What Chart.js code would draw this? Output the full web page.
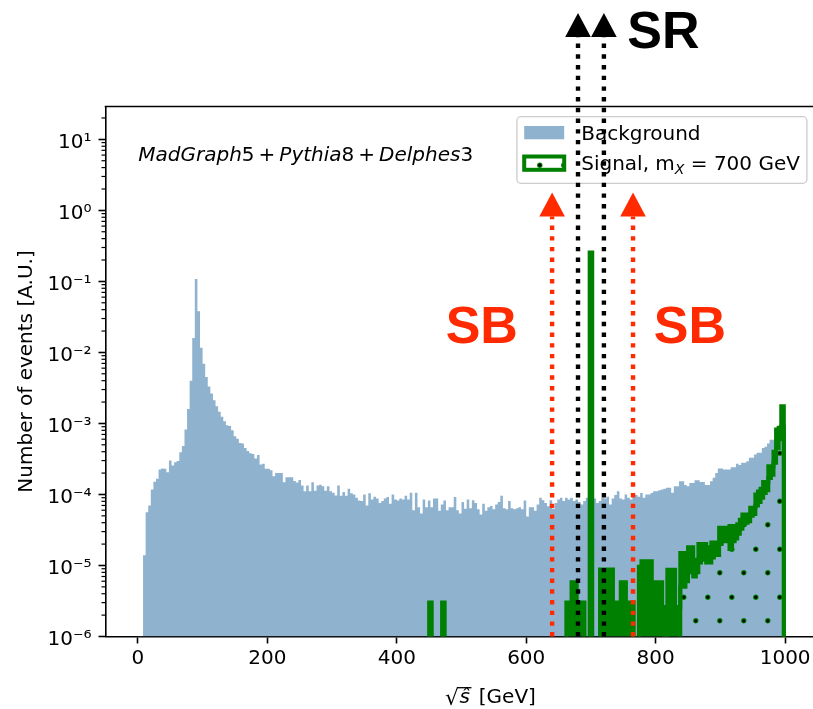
<!DOCTYPE html>
<html><head><meta charset="utf-8">
<script src="https://cdn.jsdelivr.net/npm/chart.js@4/dist/chart.umd.min.js"></script>
<style>
html,body{margin:0;padding:0;overflow:hidden;background:#fff;width:813px;height:709px;}
#c{position:absolute;left:0;top:0;display:block;}
</style></head><body>
<canvas id="c" width="830" height="709"></canvas>
<script>
// ---------------- data ----------------
// Background histogram: 4 GeV bins, first bin edge at 0 GeV
const bgBinWidth = 4;
const bgFirstEdge = 0;
const backgroundValues = [
  0, 0, 1.39e-5, 5.6e-5, 7.0e-5, 1.17e-4, 1.51e-4, 1.66e-4, 2.25e-4, 2.32e-4,
  2.3e-4, 2.06e-4, 3.0e-4, 2.56e-4, 2.85e-4, 2.95e-4, 3.94e-4, 4.8e-4, 8.2e-4, 1.6e-3,
  4.0e-3, 1.6e-2, 0.108, 3.8e-2, 1.16e-2, 6.9e-3, 4.5e-3, 3.3e-3, 2.63e-3, 2.12e-3,
  1.74e-3, 1.46e-3, 1.24e-3, 1.07e-3, 9.4e-4, 9.2e-4, 8.0e-4, 6.6e-4, 6.1e-4, 5.3e-4,
  5.2e-4, 4.5e-4, 4.1e-4, 3.8e-4, 3.7e-4, 3.2e-4, 3.6e-4, 2.64e-4,
  2.7e-4, 2.3e-4, 2.3e-4, 2.2e-4, 1.8e-4, 2.0e-4, 2.0e-4, 2.0e-4, 1.49e-4, 1.75e-4,
  1.75e-4, 1.75e-4, 1.55e-4, 1.47e-4, 1.6e-4, 1.34e-4, 1.11e-4, 1.34e-4, 1.11e-4, 1.49e-4,
  1.13e-4, 1.34e-4, 1.37e-4, 1.3e-4, 1.13e-4, 1.3e-4, 1.11e-4, 1.06e-4, 9.7e-5, 1.34e-4,
  9.6e-5, 1.08e-4, 9.6e-5, 1.2e-4, 1.04e-4, 1.0e-4, 9.0e-5, 8.2e-5, 8.1e-5, 1.0e-4,
  7.0e-5, 1.04e-4, 8.5e-5, 9.3e-5, 8.8e-5, 7.6e-5, 8.1e-5, 8.8e-5, 9.2e-5, 7.4e-5,
  1.0e-4, 8.5e-5, 8.2e-5, 8.8e-5, 8.5e-5, 9.6e-5, 8.5e-5, 1.06e-4, 6.0e-5, 1.06e-4,
  6.6e-5, 5.4e-5, 8.5e-5, 6.6e-5, 8.2e-5, 6.6e-5, 8.8e-5, 8.8e-5, 5.9e-5, 7.2e-5,
  8.2e-5, 6.0e-5, 6.6e-5, 6.6e-5, 9.2e-5, 6.0e-5, 5.4e-5,
  7.8e-5, 6.3e-5, 8.5e-5, 6.4e-5, 8.3e-5, 7.6e-5, 6.2e-5, 5.2e-5, 7.4e-5, 5.9e-5,
  6.6e-5, 6.9e-5, 6.2e-5, 7.2e-5, 7.8e-5, 9.6e-5, 6.4e-5, 6.2e-5, 8.1e-5, 6.4e-5,
  6.2e-5, 6.4e-5, 6.6e-5, 6.2e-5, 8.2e-5, 4.9e-5, 6.6e-5, 6.6e-5, 5.9e-5, 7.2e-5,
  9.0e-5, 8.3e-5, 7.6e-5, 6.8e-5, 8.3e-5, 6.3e-5, 7.6e-5, 8.5e-5, 9.0e-5, 8.1e-5,
  9.0e-5, 8.5e-5, 9.0e-5, 8.1e-5, 8.5e-5, 7.8e-5, 7.2e-5, 8.1e-5, 9.0e-5, 9.0e-5,
  9.8e-5, 8.8e-5, 7.6e-5, 8.1e-5, 9.0e-5, 8.8e-5, 9.3e-5, 7.2e-5, 8.8e-5, 9.8e-5,
  1.11e-4, 8.8e-5, 8.5e-5, 1.0e-4, 9.0e-5, 8.5e-5, 9.3e-5, 9.8e-5, 9.3e-5,
  1.05e-4, 9.0e-5, 1.0e-4, 1.0e-4, 1.05e-4, 1.11e-4, 1.11e-4, 1.15e-4, 1.17e-4, 1.2e-4,
  1.24e-4, 1.24e-4, 1.06e-4, 1.31e-4, 1.31e-4, 1.54e-4, 1.54e-4, 1.36e-4, 1.31e-4, 1.45e-4,
  1.45e-4, 1.58e-4, 1.58e-4, 1.5e-4, 1.5e-4, 1.36e-4, 1.36e-4, 1.54e-4, 1.72e-4, 2.0e-4,
  2.32e-4, 2.32e-4, 2.25e-4, 2.25e-4, 2.25e-4, 2.42e-4, 2.42e-4, 2.7e-4, 2.6e-4, 2.8e-4,
  2.8e-4, 2.94e-4, 3.28e-4, 3.28e-4, 3.66e-4, 3.85e-4, 3.85e-4, 4.5e-4, 4.7e-4, 5.2e-4,
  5.9e-4, 5.9e-4, 7.0e-4, 8.2e-4, 8.2e-4, 8.7e-4
];
// Signal (m_X = 700 GeV), drawn as the upper / lower envelope of its finely binned
// step histogram, per 4 GeV bin, first bin edge at 446 GeV
const sigBinWidth = 4;
const sigFirstEdge = 446;
const signalUpper = [
  0, 3e-6, 0, 0, 0, 0, 3e-6,
  0, 0, 0, 0, 0, 0, 0, 0, 0, 0,
  0, 0, 0, 0, 0, 0, 0, 0, 0, 0,
  0, 0, 0, 0, 0, 0, 0, 0, 0, 0,
  0, 0, 0, 0, 0, 0, 0, 0, 0, 0,
  0, 0, 0, 0, 0, 0, 0,
  3e-6, 3e-6, 5.8e-6, 5.8e-6, 3e-6, 3e-6, 3e-6, 0, 0, 0.256,
  0, 0, 0, 8.8e-6, 8.8e-6, 8.8e-6, 8.8e-6, 8.8e-6, 3e-6, 3e-6,
  3e-6, 5.8e-6, 5.8e-6, 3e-6, 3e-6, 3e-6, 0, 0,
  9.6e-6, 1.15e-5, 1.15e-5, 1.15e-5, 1.15e-5, 5.8e-6, 5.8e-6, 5.8e-6, 5.8e-6, 2.6e-6,
  0, 8.7e-6, 8.7e-6, 8.7e-6, 2.6e-6, 2.6e-6,
  1.5e-5, 1.5e-5, 1.5e-5, 1.8e-5, 1.8e-5, 1.2e-5, 1.2e-5, 2.0e-5, 2.0e-5, 2.0e-5,
  1.8e-5, 1.8e-5, 2.1e-5, 2.1e-5, 2.1e-5, 3.4e-5, 3.4e-5, 3.4e-5, 3.4e-5, 3.6e-5,
  3.6e-5, 3.6e-5, 3.8e-5, 4.4e-5, 5.2e-5, 5.2e-5, 5.2e-5, 6.5e-5, 6.5e-5, 1.0e-4,
  1.1e-4, 1.2e-4, 1.5e-4, 1.5e-4, 2.5e-4, 2.5e-4, 4.0e-4, 8.2e-4, 8.7e-4, 1.75e-3
];
const signalLower = [
  0, 0, 0, 0, 0, 0, 0, 0, 0, 0,
  0, 0, 0, 0, 0, 0, 0, 0, 0, 0,
  0, 0, 0, 0, 0, 0, 0, 0, 0, 0,
  0, 0, 0, 0, 0, 0, 0, 0, 0, 0,
  0, 0, 0, 0, 0, 0, 0, 0, 0, 0,
  0, 0, 0, 0, 0, 0, 0, 0, 0, 0,
  0, 0, 0, 0, 0, 0, 0, 0, 0, 0,
  0, 0, 0, 0, 0, 0, 0, 0, 0, 0,
  0, 0, 0, 0, 0, 0, 0, 0, 0, 0,
  0, 0, 0, 0, 0, 0, 0, 0,
  5e-6, 5e-6, 6e-6, 8e-6, 8e-6, 7e-6, 8e-6, 1.1e-5, 1.2e-5, 1.2e-5,
  1.1e-5, 1.1e-5, 1.3e-5, 1.4e-5, 1.4e-5, 2.0e-5, 2.2e-5, 2.2e-5, 2.2e-5, 1.7e-5,
  2.2e-5, 2.4e-5, 2.8e-5, 3.3e-5, 3.8e-5, 4.0e-5, 4.2e-5, 5.0e-5, 5.3e-5, 7.0e-5,
  7.8e-5, 9.0e-5, 1.05e-4, 1.15e-4, 1.7e-4, 1.9e-4, 2.8e-4, 4.5e-4, 6.0e-4, 9.0e-4
];
const xTickValues = [0, 200, 400, 600, 800, 1000];
const yTickValues = [1e-6, 1e-5, 1e-4, 1e-3, 1e-2, 1e-1, 1e0, 1e1];
const yTickLabels = ['10⁻⁶', '10⁻⁵', '10⁻⁴', '10⁻³', '10⁻²', '10⁻¹', '10⁰', '10¹'];
const seriesNames = ['Background', 'Signal'];
// signal-region / sideband boundaries (GeV) and arrow tips (A.U.)
const sidebandEdges = [640, 765];
const signalRegionEdges = [680, 720];
const sidebandArrowTip = 1.78;
const signalRegionArrowTip = 600;

// ---------------- styling ----------------
const Y_MIN = 1e-6, Y_MAX = 29;
const X_MIN = -50, X_MAX = 1050;
const FLOOR = 1e-9; // empty bins drop below the log axis
const BG_COLOR = 'rgb(143,178,207)';
const GREEN = 'rgb(0,128,0)';
const RED = '#ff2a00';
const FONT = '"DejaVu Sans"';

function histPoints(firstEdge, width, values) {
  const pts = [{x: firstEdge, y: FLOOR}];
  values.forEach((v, i) => pts.push({x: firstEdge + i * width, y: v > 0 ? v : FLOOR}));
  pts.push({x: firstEdge + values.length * width, y: FLOOR});
  return pts;
}

const canvas = document.getElementById('c');
const mainCtx = canvas.getContext('2d');
function makeDotPattern() {
  const c = document.createElement('canvas'); c.width = 24; c.height = 48;
  const g = c.getContext('2d');
  const dots = [[11.8, 21.2], [23.8, 44.8], [-0.2, 44.8]];
  for (const [x, y] of dots) {
    g.beginPath(); g.arc(x, y, 2.7, 0, 2 * Math.PI); g.fillStyle = GREEN; g.fill();
    g.beginPath(); g.arc(x, y, 1.6, 0, 2 * Math.PI); g.fillStyle = '#000'; g.fill();
  }
  return mainCtx.createPattern(c, 'repeat');
}
const dotPattern = makeDotPattern();

function roundRect(ctx, x, y, w, h, r) {
  ctx.beginPath();
  ctx.moveTo(x + r, y); ctx.lineTo(x + w - r, y); ctx.arcTo(x + w, y, x + w, y + r, r);
  ctx.lineTo(x + w, y + h - r); ctx.arcTo(x + w, y + h, x + w - r, y + h, r);
  ctx.lineTo(x + r, y + h); ctx.arcTo(x, y + h, x, y + h - r, r);
  ctx.lineTo(x, y + r); ctx.arcTo(x, y, x + r, y, r); ctx.closePath();
}

const overlay = {
  id: 'overlay',
  afterDraw(chart) {
    const ctx = chart.ctx, ca = chart.chartArea;
    const xs = chart.scales.x, ys = chart.scales.y;
    ctx.save();
    // top spine
    ctx.strokeStyle = '#000'; ctx.lineWidth = 1.6;
    ctx.beginPath(); ctx.moveTo(ca.left - 0.8, ca.top); ctx.lineTo(ca.right, ca.top); ctx.stroke();
    // minor log ticks
    ctx.lineWidth = 1.2;
    for (let d = -6; d <= 1; d++) {
      for (let m = 2; m <= 9; m++) {
        const v = m * Math.pow(10, d);
        if (v > ys.max) continue;
        const y = ys.getPixelForValue(v);
        ctx.beginPath(); ctx.moveTo(ca.left - 4, y); ctx.lineTo(ca.left, y); ctx.stroke();
      }
    }
    // generator text
    ctx.fillStyle = '#000'; ctx.textBaseline = 'alphabetic'; ctx.textAlign = 'left';
    const parts = [['MadGraph', 'italic'], ['5', ''], ['+', 'op'], ['Pythia', 'italic'], ['8', ''], ['+', 'op'], ['Delphes', 'italic'], ['3', '']];
    let tx = ca.left + 32.8; const tb = ca.top + 54.5;
    for (const [t, s] of parts) {
      ctx.font = (s === 'italic' ? 'italic ' : '') + '20px ' + FONT;
      if (s === 'op') tx += 4;
      ctx.fillText(t, tx, tb);
      tx += ctx.measureText(t).width;
      if (s === 'op') tx += 4;
    }
    // x-axis label  sqrt(s-hat) [GeV]
    const lx0 = ca.left + 339.5, lb = ca.bottom + 66.5;
    ctx.font = '22px ' + FONT;
    const rad = ctx.measureText('√');
    ctx.fillText('√', lx0, lb + 2);
    const radTop = lb + 2 - rad.actualBoundingBoxAscent;
    let lx = lx0 + rad.width - 0.5;
    ctx.font = 'italic 20px ' + FONT;
    ctx.fillText('ŝ', lx + 1, lb);
    const sw = ctx.measureText('ŝ').width;
    ctx.lineWidth = 1.3;
    ctx.beginPath(); ctx.moveTo(lx - 1.5, radTop + 0.7); ctx.lineTo(lx + sw + 2.5, radTop + 0.7); ctx.stroke();
    lx += sw + 3.5;
    ctx.font = '20px ' + FONT;
    ctx.fillText(' [GeV]', lx, lb);
    // legend
    const Lw = 290, Lh = 66.6;
    const Lx = ca.right - 10.6 - Lw, Ly = ca.top + 10.2;
    roundRect(ctx, Lx, Ly, Lw, Lh, 4);
    ctx.fillStyle = 'rgba(255,255,255,0.8)'; ctx.fill();
    ctx.strokeStyle = '#cccccc'; ctx.lineWidth = 1.3; ctx.stroke();
    ctx.fillStyle = BG_COLOR; ctx.fillRect(Lx + 7.3, Ly + 9.3, 40, 13.3);
    ctx.fillStyle = dotPattern; ctx.fillRect(Lx + 7.3, Ly + 39.8, 40, 13.3);
    ctx.strokeStyle = GREEN; ctx.lineWidth = 4; ctx.lineJoin = 'miter';
    ctx.strokeRect(Lx + 7.3, Ly + 39.8, 40, 13.3);
    ctx.fillStyle = '#000'; ctx.font = '20px ' + FONT;
    ctx.fillText(seriesNames[0], Lx + 64.3, Ly + 23.3);
    let sx = Lx + 64.3; const sb = Ly + 53.3;
    ctx.fillText(seriesNames[1] + ', m', sx, sb); sx += ctx.measureText(seriesNames[1] + ', m').width;
    ctx.font = 'italic 14px ' + FONT;
    ctx.fillText('X', sx, sb + 4); sx += ctx.measureText('X').width;
    ctx.font = '20px ' + FONT;
    ctx.fillText(' = 700 GeV', sx, sb);
    // arrows
    function arrow(xv, tipV, color) {
      const X = xs.getPixelForValue(xv);
      const tipY = ys.getPixelForValue(tipV);
      const baseY = tipY + 24;
      ctx.strokeStyle = color; ctx.lineWidth = 4.4; ctx.lineCap = 'butt';
      ctx.setLineDash([4.4, 6.3]); ctx.lineDashOffset = 0;
      ctx.beginPath(); ctx.moveTo(X, ca.bottom); ctx.lineTo(X, baseY); ctx.stroke();
      ctx.setLineDash([]);
      ctx.fillStyle = color;
      ctx.beginPath(); ctx.moveTo(X, tipY); ctx.lineTo(X - 12.8, baseY); ctx.lineTo(X + 12.8, baseY); ctx.closePath(); ctx.fill();
    }
    sidebandEdges.forEach(v => arrow(v, sidebandArrowTip, RED));
    signalRegionEdges.forEach(v => arrow(v, signalRegionArrowTip, '#000'));
    // region labels
    ctx.font = 'bold 52px "Liberation Sans"';
    ctx.fillStyle = '#000';
    ctx.fillText('SR', xs.getPixelForValue(756), ys.getPixelForValue(194));
    ctx.fillStyle = RED;
    ctx.fillText('SB', xs.getPixelForValue(475.5), ys.getPixelForValue(0.0136));
    ctx.fillText('SB', xs.getPixelForValue(797), ys.getPixelForValue(0.0136));
    ctx.restore();
  }
};

Chart.defaults.font.family = 'DejaVu Sans';
new Chart(canvas, {
  type: 'line',
  data: {
    datasets: [
      {
        label: seriesNames[1] + ' (upper)',
        data: histPoints(sigFirstEdge, sigBinWidth, signalUpper),
        stepped: true, borderColor: GREEN, borderWidth: 4, borderJoinStyle: 'miter',
        backgroundColor: GREEN, fill: '+1', pointRadius: 0, order: 1,
        clip: {left: 5, right: 5, top: 5, bottom: 0}
      },
      {
        label: seriesNames[1] + ' (lower)',
        data: histPoints(sigFirstEdge, sigBinWidth, signalLower),
        stepped: true, borderColor: GREEN, borderWidth: 4, borderJoinStyle: 'miter',
        backgroundColor: dotPattern, fill: 'start', pointRadius: 0, order: 2,
        clip: {left: 5, right: 5, top: 5, bottom: 0}
      },
      {
        label: seriesNames[0],
        data: histPoints(bgFirstEdge, bgBinWidth, backgroundValues),
        stepped: true, borderWidth: 0, borderColor: BG_COLOR,
        backgroundColor: BG_COLOR, fill: 'start', pointRadius: 0, order: 3
      }
    ]
  },
  options: {
    responsive: false, animation: false, devicePixelRatio: 1, events: [],
    layout: {padding: {left: 0, top: 106.5, right: 12.5, bottom: 0}},
    plugins: {legend: {display: false}, tooltip: {enabled: false}},
    scales: {
      x: {
        type: 'linear', min: X_MIN, max: X_MAX, z: 1,
        afterFit(s) { s.height = 72.5; },
        afterBuildTicks(s) { s.ticks = xTickValues.map(v => ({value: v})); },
        ticks: {autoSkip: false, maxRotation: 0, color: '#000', font: {size: 20}, padding: 3, callback: v => String(v)},
        grid: {display: true, drawOnChartArea: false, drawTicks: true, tickLength: 7, tickWidth: 1.6, tickColor: '#000'},
        border: {display: true, color: '#000', width: 1.6}
      },
      y: {
        type: 'logarithmic', min: Y_MIN, max: Y_MAX, z: 1,
        afterFit(s) { s.width = 105.5; },
        afterBuildTicks(s) { s.ticks = yTickValues.map(v => ({value: v, major: true})); },
        ticks: {autoSkip: false, color: '#000', font: {size: 20}, padding: 7, labelOffset: 3, callback: (v, i) => yTickLabels[i]},
        grid: {display: true, drawOnChartArea: false, drawTicks: true, tickLength: 7, tickWidth: 1.6, tickColor: '#000'},
        border: {display: true, color: '#000', width: 1.6},
        title: {display: true, text: 'Number of events [A.U.]', color: '#000', font: {size: 20}, padding: {top: 14.6, bottom: 0}}
      }
    }
  },
  plugins: [overlay]
});
</script>
</body></html>
